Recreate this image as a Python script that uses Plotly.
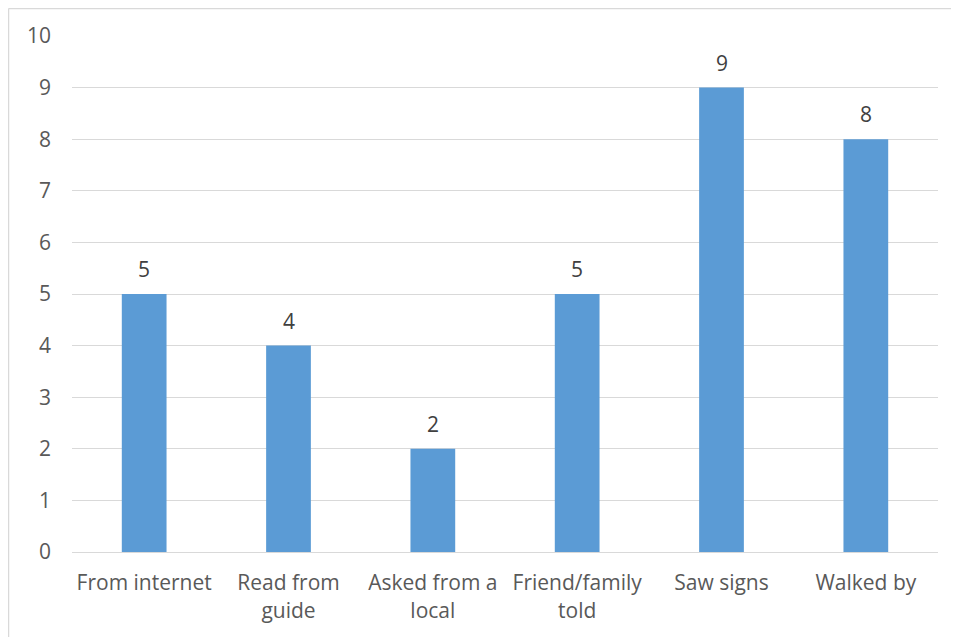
import plotly.graph_objects as go

categories = ["From internet", "Read from<br>guide", "Asked from a<br>local", "Friend/family<br>told", "Saw signs", "Walked by"]
values = [5, 4, 2, 5, 9, 8]
y_ticks = list(range(0, 11))

FONT = "Open Sans, Lato, sans-serif"
W, H = 951, 629
L, R, T, B = 64, 21, 28, 85
PW, PH = W - L - R, H - T - B

fig = go.Figure()
fig.add_trace(go.Bar(x=categories, y=values, marker=dict(color="#5b9bd5", line=dict(width=0)), hoverinfo="skip"))

for c, v in zip(categories, values):
    fig.add_annotation(x=c, y=v, text=str(v), showarrow=False, yanchor="bottom", yshift=9,
                       font=dict(family=FONT, size=21, color="#404040"))

bx0 = -(L - 0.5) / PW
bx1 = 1 + (R + 20) / PW
by0 = -(B + 20) / PH
by1 = 1 + (T - 0.5) / PH
border = dict(color="#d9d9d9", width=1.5)

fig.update_layout(
    width=W, height=H,
    margin=dict(l=L, r=R, t=T, b=B),
    paper_bgcolor="white", plot_bgcolor="white",
    bargap=0.69,
    showlegend=False,
    font=dict(family=FONT, size=21, color="#595959"),
    xaxis=dict(showgrid=False, showline=True, linecolor="#d9d9d9", linewidth=1, ticks="",
               tickfont=dict(family=FONT, size=21, color="#595959"), ticklabelstandoff=12),
    yaxis=dict(range=[0, 10], tickvals=y_ticks, showgrid=True, gridcolor="#d9d9d9", gridwidth=1,
               zeroline=False, showline=False, ticks="",
               tickfont=dict(family=FONT, size=21, color="#595959"), ticklabelstandoff=20),
    shapes=[
        dict(type="line", xref="paper", yref="paper", x0=bx0, x1=bx1, y0=by1, y1=by1, line=border, layer="below"),
        dict(type="line", xref="paper", yref="paper", x0=bx0, x1=bx0, y0=by0, y1=by1, line=border, layer="below"),
    ],
)

fig.write_html("out.html")
